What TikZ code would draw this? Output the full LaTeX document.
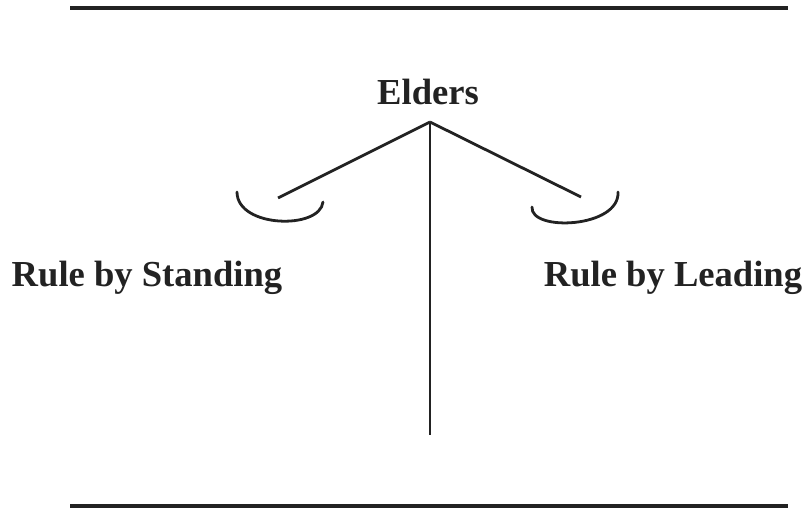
\documentclass[tikz,border=0pt]{standalone}
\usepackage{fontspec}
\setmainfont{Liberation Serif}
\usepackage{tikz}
\usetikzlibrary{positioning,calc}
\definecolor{ink}{HTML}{222222}

\begin{document}
\begin{tikzpicture}[
  x=1pt,y=-1pt,
  label/.style={font=\fontsize{36.6}{40}\selectfont\bfseries,text=ink,inner sep=0pt,anchor=center},
  rule/.style={draw=ink,line width=4pt},
  stem/.style={draw=ink,line width=2.8pt},
  cup/.style={draw=ink,line width=2.8pt,line cap=round}
]
  \useasboundingbox (0,0) rectangle (807,510);

  % frame lines
  \coordinate (tl) at (70,8);
  \coordinate (tr) at (788,8);
  \coordinate (bl) at (70,506);
  \coordinate (br) at (788,506);
  \draw[rule] (tl) -- (tr);
  \draw[rule] (bl) -- (br);

  % labels
  \node[label] (elders)   at (428,92)  {Elders};
  \node[label] (standing) at (147,278) {Rule by Standing};
  \node[label] (leading)  at (673,278) {Rule by Leading};

  % balance
  \coordinate (apex)  at (430,122);
  \coordinate (foot)  at (430,435);
  \coordinate (armL)  at (278,198);
  \coordinate (armR)  at (581,197);
  \draw[stem] (apex) -- (foot);
  \draw[stem] (apex) -- (armL);
  \draw[stem] (apex) -- (armR);

  % pans
  \draw[cup] (237,192) .. controls (237,228) and (320,230) .. (323,202);
  \draw[cup] (532,207) .. controls (530,232) and (620,228) .. (618,192);
\end{tikzpicture}
\end{document}
